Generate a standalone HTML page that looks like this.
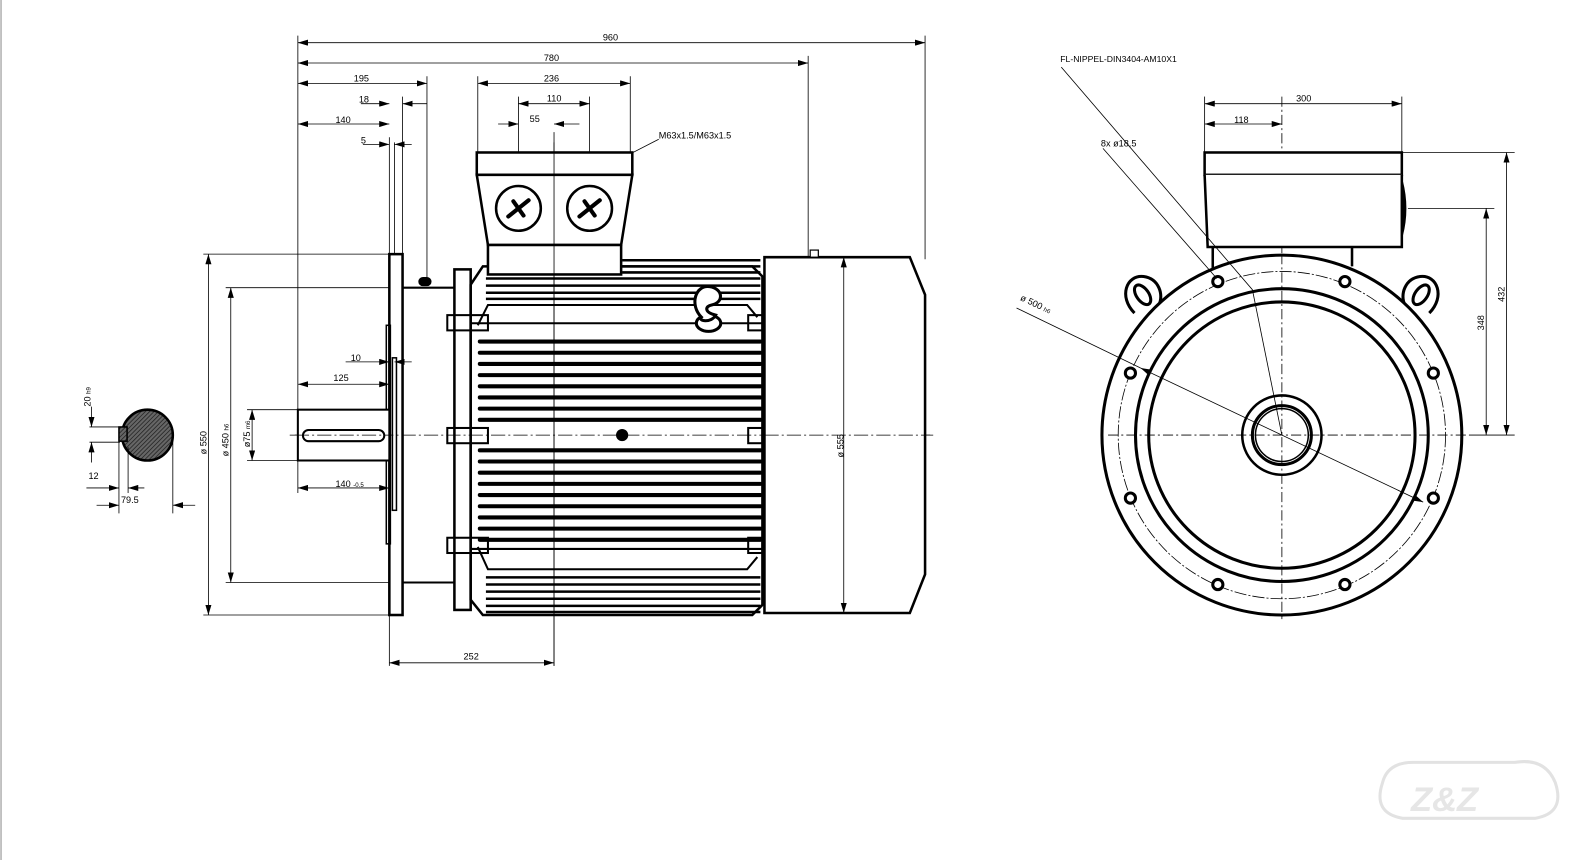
<!DOCTYPE html>
<html><head><meta charset="utf-8"><style>
html,body{margin:0;padding:0;background:#fff;}
svg{display:block;}
text{font-family:"Liberation Sans",sans-serif;}
</style></head><body>
<svg width="1596" height="860" viewBox="0 0 1570 846" xmlns="http://www.w3.org/2000/svg" font-size="9">
<defs>
<marker id="a" viewBox="0 0 10 6" refX="10" refY="3" markerWidth="10" markerHeight="6" markerUnits="userSpaceOnUse" orient="auto-start-reverse"><path d="M0,0 L10,3 L0,6z" fill="#000"/></marker>
<pattern id="h" width="3" height="3" patternUnits="userSpaceOnUse" patternTransform="rotate(45)"><rect width="3" height="3" fill="#666"/><line x1="0" y1="0" x2="0" y2="3" stroke="#222" stroke-width="1.5"/></pattern>
</defs>
<line x1="1" y1="0" x2="1" y2="846" stroke="#888" stroke-width="1"/>

<!-- ========== SIDE VIEW ========== -->
<g fill="none" stroke="#000">
<line x1="285" y1="428" x2="918" y2="428" stroke-width="0.7" stroke-dasharray="14,3,2,3"/>
<line x1="545" y1="130" x2="545" y2="655" stroke-width="0.8"/>
<g stroke-width="0.8">
<line x1="293" y1="35" x2="293" y2="485"/>
<line x1="910" y1="35" x2="910" y2="255"/>
<line x1="795" y1="55" x2="795" y2="283"/>
<line x1="420" y1="75" x2="420" y2="275"/>
<line x1="383" y1="135" x2="383" y2="655"/>
<line x1="388" y1="140" x2="388" y2="250"/>
<line x1="396" y1="95" x2="396" y2="250"/>
<line x1="470" y1="75" x2="470" y2="150"/>
<line x1="620" y1="75" x2="620" y2="150"/>
<line x1="510" y1="95" x2="510" y2="205"/>
<line x1="580" y1="95" x2="580" y2="205"/>
<line x1="200" y1="250" x2="383" y2="250"/>
<line x1="200" y1="605" x2="383" y2="605"/>
<line x1="222" y1="283" x2="383" y2="283"/>
<line x1="222" y1="573" x2="383" y2="573"/>
<line x1="243" y1="403" x2="293" y2="403"/>
<line x1="243" y1="453" x2="293" y2="453"/>
<line x1="795" y1="253" x2="835" y2="253"/>
<line x1="795" y1="603" x2="835" y2="603"/>
</g>
<g stroke-width="0.8" marker-start="url(#a)" marker-end="url(#a)">
<line x1="293" y1="42" x2="910" y2="42"/>
<line x1="293" y1="62" x2="795" y2="62"/>
<line x1="293" y1="82" x2="420" y2="82"/>
<line x1="470" y1="82" x2="620" y2="82"/>
<line x1="510" y1="102" x2="580" y2="102"/>
<line x1="293" y1="122" x2="383" y2="122"/>
<line x1="293" y1="378" x2="383" y2="378"/>
<line x1="293" y1="480" x2="383" y2="480"/>
<line x1="383" y1="652" x2="545" y2="652"/>
<line x1="205" y1="250" x2="205" y2="605"/>
<line x1="227" y1="283" x2="227" y2="573"/>
<line x1="248" y1="403" x2="248" y2="453"/>
</g>
<g stroke-width="0.8">
<line x1="355" y1="102" x2="383" y2="102" marker-end="url(#a)"/><line x1="420" y1="102" x2="396" y2="102" marker-end="url(#a)"/>
<line x1="490" y1="122" x2="510" y2="122" marker-end="url(#a)"/><line x1="570" y1="122" x2="545" y2="122" marker-end="url(#a)"/>
<line x1="357" y1="142" x2="383" y2="142" marker-end="url(#a)"/><line x1="405" y1="142" x2="388" y2="142" marker-end="url(#a)"/>
<line x1="340" y1="356" x2="383" y2="356" marker-end="url(#a)"/><line x1="405" y1="356" x2="388" y2="356" marker-end="url(#a)"/>
<line x1="648" y1="137" x2="510" y2="208"/>
</g>
<rect x="383" y="250" width="13" height="355" stroke-width="2.5"/>
<rect x="380" y="320" width="4" height="215" stroke-width="1.5"/>
<rect x="386" y="352" width="4" height="150" stroke-width="1.5"/>
<path d="M396,283 H447 M396,573 H447" stroke-width="2"/>
<rect x="412" y="273" width="12" height="8" rx="4" fill="#000"/>
<rect x="447" y="265" width="16" height="335" stroke-width="2.5"/>
<rect x="440" y="310" width="40" height="15" stroke-width="2"/>
<rect x="440" y="421" width="40" height="15" stroke-width="2"/>
<rect x="440" y="529" width="40" height="15" stroke-width="2"/>
<rect x="736" y="310" width="14" height="15" stroke-width="2"/>
<rect x="736" y="421" width="14" height="15" stroke-width="2"/>
<rect x="736" y="529" width="14" height="15" stroke-width="2"/>
<path d="M463,280 L475,262 H740 L750,272 V595 L740,605 H475 L463,590 Z" stroke-width="2.5"/>
<path d="M470,320 L480,300 H735 L745,312 M470,538 L480,560 H735 L745,548" stroke-width="2"/>
<line x1="463" y1="318" x2="750" y2="318" stroke-width="2"/>
<line x1="463" y1="540" x2="750" y2="540" stroke-width="2"/>
</g>
<g stroke="#000" stroke-width="2.5">
<line x1="612" y1="256" x2="748" y2="256"/><line x1="612" y1="262" x2="748" y2="262"/><line x1="612" y1="268" x2="748" y2="268"/>
<line x1="478" y1="274" x2="748" y2="274"/><line x1="478" y1="281" x2="748" y2="281"/><line x1="478" y1="288" x2="748" y2="288"/><line x1="478" y1="294" x2="748" y2="294"/>
<line x1="478" y1="568" x2="748" y2="568"/><line x1="478" y1="575" x2="748" y2="575"/><line x1="478" y1="582" x2="748" y2="582"/><line x1="478" y1="589" x2="748" y2="589"/><line x1="478" y1="596" x2="748" y2="596"/><line x1="478" y1="602" x2="748" y2="602"/>
</g>
<g stroke="#000" stroke-width="4" stroke-linecap="round">
<line x1="472" y1="336" x2="748" y2="336"/><line x1="472" y1="347" x2="748" y2="347"/><line x1="472" y1="358" x2="748" y2="358"/><line x1="472" y1="369" x2="748" y2="369"/><line x1="472" y1="380" x2="748" y2="380"/><line x1="472" y1="391" x2="748" y2="391"/><line x1="472" y1="402" x2="748" y2="402"/><line x1="472" y1="413" x2="748" y2="413"/>
<line x1="472" y1="443" x2="748" y2="443"/><line x1="472" y1="454" x2="748" y2="454"/><line x1="472" y1="465" x2="748" y2="465"/><line x1="472" y1="476" x2="748" y2="476"/><line x1="472" y1="487" x2="748" y2="487"/><line x1="472" y1="498" x2="748" y2="498"/><line x1="472" y1="509" x2="748" y2="509"/><line x1="472" y1="520" x2="748" y2="520"/><line x1="472" y1="531" x2="748" y2="531"/>
</g>
<circle cx="612" cy="428" r="6" fill="#000"/>
<g fill="#fff" stroke="#000" stroke-width="3">
<ellipse cx="697" cy="318" rx="12" ry="8"/>
<path d="M690,312 C678,300 684,280 698,282 C712,284 712,298 700,300 C694,301 692,307 704,310 C700,318 686,316 690,312Z"/>
</g>
<g fill="#fff" stroke="#000" stroke-width="2.5">
<rect x="469" y="150" width="153" height="22"/>
<path d="M469,172 H622 L611,241 H480 Z"/>
<rect x="480" y="241" width="131" height="29"/>
<circle cx="510" cy="205" r="22"/>
<circle cx="580" cy="205" r="22"/>
</g>
<g stroke="#000" stroke-width="4" stroke-linecap="round">
<line x1="500" y1="213" x2="520" y2="197"/><line x1="505" y1="198" x2="515" y2="212"/>
<line x1="570" y1="213" x2="590" y2="197"/><line x1="575" y1="198" x2="585" y2="212"/>
</g>
<line x1="545" y1="140" x2="545" y2="655" stroke="#000" stroke-width="0.8"/>
<path d="M752,253 H895 L910,290 V565 L895,603 H752 Z" fill="#fff" stroke="#000" stroke-width="2.5"/>
<rect x="797" y="246" width="8" height="7" fill="#fff" stroke="#000" stroke-width="1.2"/>
<line x1="830" y1="253" x2="830" y2="603" stroke="#000" stroke-width="0.8" marker-start="url(#a)" marker-end="url(#a)"/>
<line x1="752" y1="428" x2="918" y2="428" stroke="#000" stroke-width="0.7" stroke-dasharray="14,3,2,3"/>
<rect x="293" y="403" width="90" height="50" fill="#fff" stroke="#000" stroke-width="2"/>
<rect x="298" y="423" width="80" height="11" rx="5.5" fill="none" stroke="#000" stroke-width="2"/>
<line x1="290" y1="428" x2="385" y2="428" stroke="#000" stroke-width="0.7" stroke-dasharray="14,3,2,3"/>
<circle cx="145" cy="428" r="25" fill="url(#h)" stroke="#000" stroke-width="2.5"/>
<rect x="117" y="420" width="8" height="14" fill="url(#h)" stroke="#000" stroke-width="1.5"/>
<g stroke="#000" stroke-width="0.8">
<line x1="88" y1="420" x2="118" y2="420"/><line x1="88" y1="435" x2="118" y2="435"/>
<line x1="90" y1="400" x2="90" y2="420" marker-end="url(#a)"/><line x1="90" y1="455" x2="90" y2="435" marker-end="url(#a)"/>
<line x1="117" y1="435" x2="117" y2="505"/><line x1="126" y1="440" x2="126" y2="485"/><line x1="170" y1="430" x2="170" y2="505"/>
<line x1="85" y1="480" x2="117" y2="480" marker-end="url(#a)"/><line x1="142" y1="480" x2="126" y2="480" marker-end="url(#a)"/>
<line x1="95" y1="497" x2="117" y2="497" marker-end="url(#a)"/><line x1="192" y1="497" x2="170" y2="497" marker-end="url(#a)"/>
</g>

<!-- ========== FRONT VIEW ========== -->
<g fill="none" stroke="#000">
<line x1="1261" y1="95" x2="1261" y2="610" stroke-width="0.8" stroke-dasharray="10,3,2,3"/>
<path d="M1193,243 V268 M1330,243 V262" stroke-width="2.5"/>
<rect x="1185" y="150" width="194" height="22" fill="#fff" stroke-width="2.5"/>
<path d="M1185,172 L1188,243 H1379 V172" fill="#fff" stroke-width="2.5"/>
<path d="M1379,178 Q1386,205 1379,232" fill="#000" stroke-width="2"/>
<g stroke-width="3" fill="#fff">
<path d="M1116,308 C1100,292 1108,270 1125,272 C1140,274 1145,290 1140,300"/>
<ellipse cx="1124" cy="290" rx="6" ry="11" transform="rotate(-35 1124 290)"/>
<path d="M1406,308 C1422,292 1414,270 1397,272 C1382,274 1377,290 1382,300"/>
<ellipse cx="1398" cy="290" rx="6" ry="11" transform="rotate(35 1398 290)"/>
</g>
<circle cx="1261" cy="428" r="177" fill="#fff" stroke-width="3"/>
<circle cx="1261" cy="428" r="161" stroke-width="0.8" stroke-dasharray="12,2,2,2"/>
<circle cx="1261" cy="428" r="144" stroke-width="3"/>
<circle cx="1261" cy="428" r="131" stroke-width="3"/>
<circle cx="1261" cy="428" r="39" stroke-width="2.5"/>
<circle cx="1261" cy="428" r="29" stroke-width="3"/>
<circle cx="1261" cy="428" r="26" stroke-width="1.5"/>
<line x1="1261" y1="250" x2="1261" y2="610" stroke-width="0.8" stroke-dasharray="10,3,2,3"/>
<line x1="1090" y1="428" x2="1445" y2="428" stroke-width="0.8" stroke-dasharray="10,3,2,3"/>
</g>
<g fill="#fff" stroke="#000" stroke-width="3">
<circle cx="1198" cy="277" r="5"/><circle cx="1323" cy="277" r="5"/>
<circle cx="1112" cy="367" r="5"/><circle cx="1410" cy="367" r="5"/>
<circle cx="1112" cy="490" r="5"/><circle cx="1410" cy="490" r="5"/>
<circle cx="1198" cy="575" r="5"/><circle cx="1323" cy="575" r="5"/>
</g>
<g stroke="#000" stroke-width="0.8" fill="none">
<path d="M1044,66 L1232,285 L1261,428"/>
<line x1="1085" y1="146" x2="1197" y2="274"/>
<line x1="1000" y1="303" x2="1122" y2="362" />
<line x1="1122" y1="362" x2="1400" y2="494" marker-start="url(#a)" marker-end="url(#a)"/>
<line x1="1185" y1="95" x2="1185" y2="150"/><line x1="1379" y1="95" x2="1379" y2="150"/>
<line x1="1185" y1="102" x2="1379" y2="102" marker-start="url(#a)" marker-end="url(#a)"/>
<line x1="1185" y1="122" x2="1261" y2="122" marker-start="url(#a)" marker-end="url(#a)"/>
<line x1="1379" y1="150" x2="1490" y2="150"/><line x1="1385" y1="205" x2="1470" y2="205"/>
<line x1="1445" y1="428" x2="1490" y2="428"/>
<line x1="1482" y1="150" x2="1482" y2="428" marker-start="url(#a)" marker-end="url(#a)"/>
<line x1="1462" y1="205" x2="1462" y2="428" marker-start="url(#a)" marker-end="url(#a)"/>
</g>

<!-- ========== TEXT ========== -->
<g fill="#000" font-size="9">
<text x="593" y="40">960</text>
<text x="535" y="60">780</text>
<text x="348" y="80">195</text>
<text x="535" y="80">236</text>
<text x="353" y="101">18</text>
<text x="538" y="100">110</text>
<text x="330" y="121">140</text>
<text x="521" y="120">55</text>
<text x="355" y="141">5</text>
<text x="648" y="136">M63x1.5/M63x1.5</text>
<text x="345" y="355">10</text>
<text x="328" y="375">125</text>
<text x="330" y="479">140 <tspan font-size="6">-0.5</tspan></text>
<text x="456" y="649">252</text>
<text x="87" y="471">12</text>
<text x="119" y="495">79.5</text>
<text transform="translate(89,400) rotate(-90)">20 <tspan font-size="6">h9</tspan></text>
<text transform="translate(203,447) rotate(-90)">ø 550</text>
<text transform="translate(225,449) rotate(-90)">ø 450 <tspan font-size="6">h6</tspan></text>
<text transform="translate(246,440) rotate(-90)">ø75 <tspan font-size="6">m6</tspan></text>
<text transform="translate(830,450) rotate(-90)">ø 555</text>
<text x="1043" y="61" font-size="8.5">FL-NIPPEL-DIN3404-AM10X1</text>
<text x="1083" y="144">8x  ø18.5</text>
<text x="1275" y="100">300</text>
<text x="1214" y="121">118</text>
<text transform="translate(1003,295) rotate(25)">ø 500 <tspan font-size="6">h6</tspan></text>
<text transform="translate(1480,297) rotate(-90)">432</text>
<text transform="translate(1460,325) rotate(-90)">348</text>
</g>
<!-- logo -->
<g fill="none" stroke="#e2e2e2" stroke-width="3">
<path d="M1360,770 Q1350,800 1380,805 H1510 Q1540,800 1530,770 Q1520,745 1490,750 H1390 Q1365,750 1360,770Z"/>
</g>
<text x="1388" y="798" font-size="34" font-style="italic" font-weight="bold" fill="#e6e6e6">Z&amp;Z</text>
</svg>
</body></html>
